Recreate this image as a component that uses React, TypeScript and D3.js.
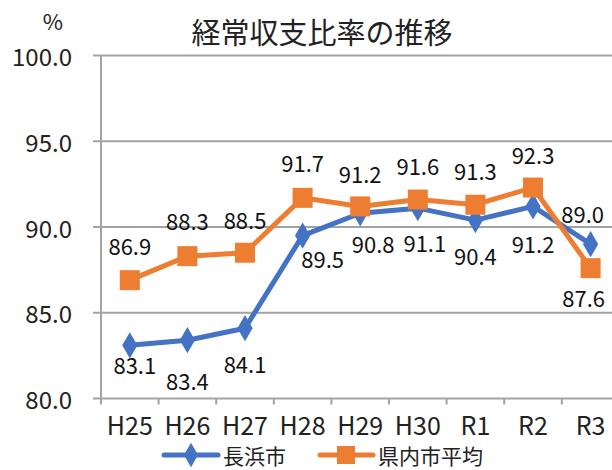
import React from "react";
import * as d3 from "d3";

// 年度
const categories = ["H25", "H26", "H27", "H28", "H29", "H30", "R1", "R2", "R3"];
// 長浜市
const nagahama = [83.1, 83.4, 84.1, 89.5, 90.8, 91.1, 90.4, 91.2, 89.0];
// 県内市平均
const prefAvg = [86.9, 88.3, 88.5, 91.7, 91.2, 91.6, 91.3, 92.3, 87.6];
const yTicks = [80, 85, 90, 95, 100];

// label nudges [dx, dy] from the point (hand-placed in the original)
const nagahamaLabelPos = [[5, 19], [0, 40], [0, 35], [20, 22], [13, 30], [7, 34], [0, 35], [0, 37], [-8, -31]];
const prefLabelPos = [[0, -35], [0, -36], [0, -34], [0, -36], [0, -33], [0, -35], [0, -35], [0, -34], [-7, 29]];

const BLUE = "#4472C4";
const ORANGE = "#ED7D31";
const GRID = "#a3a3a3";
const FONT = "'Noto Sans CJK JP', 'Noto Sans', sans-serif";

const W = 612;
const H = 470;
const left = 101;
const band = 57.6;

const x = d3.scaleBand<string>().domain(categories).range([left, left + band * categories.length]).padding(0);
const y = d3.scaleLinear().domain([80, 100]).range([398.5, 55.5]);
const cx = (c: string) => (x(c) as number) + x.bandwidth() / 2;

const line = d3.line<number>()
  .x((_, i) => cx(categories[i]))
  .y(d => y(d));

const diamond = d3.symbol().type(d3.symbolDiamond).size(200);
const legendDiamond = d3.symbol().type(d3.symbolDiamond).size(170);

export default function App() {
  const tickX = [...categories.map(c => x(c) as number), left + band * categories.length];
  const legY = 455;
  return (
    <svg width={W} height={H} style={{ position: "absolute", left: 0, top: 0, background: "#fff" }} fontFamily={FONT}>
      <rect width={W} height={H} fill="#fff" />
      {/* title */}
      <text x={322} y={31} textAnchor="middle" dominantBaseline="central" fontSize={29} fill="#222">経常収支比率の推移</text>
      <text x={53} y={20} textAnchor="middle" dominantBaseline="central" fontSize={22} fill="#222">%</text>

      {/* grid + y axis */}
      {yTicks.map(t => (
        <g key={t}>
          <line x1={93} x2={W} y1={y(t)} y2={y(t)} stroke={GRID} strokeWidth={2} />
          <text x={72} y={y(t)} textAnchor="end" dominantBaseline="central" fontSize={24} fill="#222">{t.toFixed(1)}</text>
        </g>
      ))}
      <line x1={left} x2={left} y1={y(100)} y2={y(80)} stroke={GRID} strokeWidth={2} />
      {tickX.map((tx, i) => (
        <line key={i} x1={tx} x2={tx} y1={y(80)} y2={y(80) + 6} stroke={GRID} strokeWidth={2} />
      ))}
      {categories.map(c => (
        <text key={c} x={cx(c)} y={424} textAnchor="middle" dominantBaseline="central" fontSize={25} fill="#222">{c}</text>
      ))}

      {/* series */}
      <path d={line(nagahama) || ""} fill="none" stroke={BLUE} strokeWidth={5} strokeLinejoin="round" />
      <path d={line(prefAvg) || ""} fill="none" stroke={ORANGE} strokeWidth={5} strokeLinejoin="round" />
      {nagahama.map((v, i) => (
        <path key={i} d={diamond() || ""} transform={`translate(${cx(categories[i])},${y(v)})`} fill={BLUE} />
      ))}
      {prefAvg.map((v, i) => (
        <rect key={i} x={cx(categories[i]) - 10} y={y(v) - 10} width={20} height={20} fill={ORANGE} />
      ))}

      {/* data labels */}
      {nagahama.map((v, i) => (
        <text key={i} x={cx(categories[i]) + nagahamaLabelPos[i][0]} y={y(v) + nagahamaLabelPos[i][1]}
          textAnchor="middle" dominantBaseline="central" fontSize={22} fill="#111">{v.toFixed(1)}</text>
      ))}
      {prefAvg.map((v, i) => (
        <text key={i} x={cx(categories[i]) + prefLabelPos[i][0]} y={y(v) + prefLabelPos[i][1]}
          textAnchor="middle" dominantBaseline="central" fontSize={22} fill="#111">{v.toFixed(1)}</text>
      ))}

      {/* legend */}
      <g>
        <line x1={164} x2={218} y1={legY} y2={legY} stroke={BLUE} strokeWidth={5} strokeLinecap="round" />
        <path d={legendDiamond() || ""} transform={`translate(191,${legY})`} fill={BLUE} />
        <text x={223} y={legY} dominantBaseline="central" fontSize={21} fill="#222">長浜市</text>
        <line x1={320} x2={373} y1={legY} y2={legY} stroke={ORANGE} strokeWidth={5} strokeLinecap="round" />
        <rect x={337} y={legY - 9} width={18} height={18} fill={ORANGE} />
        <text x={378} y={legY} dominantBaseline="central" fontSize={21} fill="#222">県内市平均</text>
      </g>
    </svg>
  );
}
